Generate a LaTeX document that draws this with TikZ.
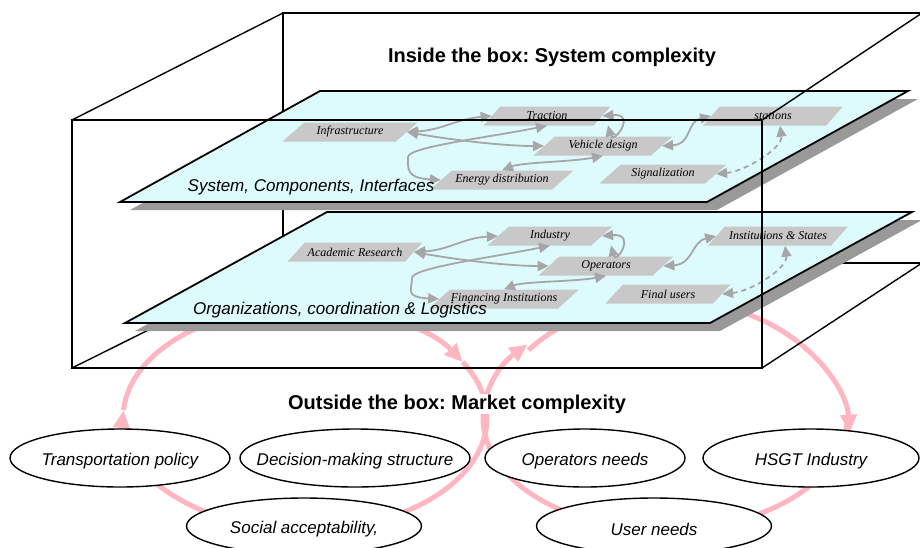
\documentclass[tikz,border=0pt]{standalone}
\usepackage{fontspec}
\setmainfont{Liberation Serif}
\setsansfont{Liberation Sans}
\usetikzlibrary{shapes.geometric,arrows.meta}
\frenchspacing
\definecolor{sheetcyan}{RGB}{221,250,253}
\definecolor{sheetgray}{RGB}{153,153,153}
\definecolor{taggray}{RGB}{200,200,200}
\definecolor{linkgray}{RGB}{166,166,166}
\definecolor{looppink}{RGB}{255,182,193}
\tikzset{
  boxedge/.style={line width=1.4pt},
  sheet/.style={fill=sheetcyan, draw=black, line width=1.8pt},
  sheetshade/.style={fill=sheetgray},
  tag/.style={trapezium, trapezium left angle=31, trapezium right angle=149,
    trapezium stretches body, fill=taggray, minimum height=19pt, minimum width=135pt,
    inner sep=1pt, font=\fontsize{12}{13}\selectfont\itshape},
  link/.style={draw=linkgray, line width=1.8pt, >={Triangle[length=11pt,width=10pt]}, <->},
  dashlink/.style={link, dash pattern=on 5pt off 4pt},
  pinkloop/.style={draw=looppink, line width=5pt},
  looptip/.style={pinkloop, >={Triangle[length=18pt,width=16pt]}, ->},
  need/.style={ellipse, draw, line width=1.4pt, fill=white, inner sep=0pt},
  needtext/.style={font=\fontsize{17}{20}\selectfont\sffamily\itshape, yshift=-3pt},
  heading/.style={font=\fontsize{20}{24}\selectfont\sffamily\bfseries},
  layername/.style={font=\fontsize{17}{20}\selectfont\sffamily\itshape}
}
\begin{document}
\begin{tikzpicture}[x=1pt, y=-1pt]
\useasboundingbox (0,0) rectangle (920,547);
% the box
\coordinate (bTL) at (283,13);
\coordinate (bTR) at (922,13);
\coordinate (bBR) at (922,263);
\coordinate (bBL) at (283,263);
\coordinate (fTL) at (72,120);
\coordinate (fTR) at (762,120);
\coordinate (fBR) at (762,368);
\coordinate (fBL) at (72,368);
\draw[boxedge] (bBL) rectangle (bTR);
\draw[boxedge] (fTL) -- (bTL) (fBL) -- (bBL);

% market loops
\draw[looptip] (305,418) ++(120:182 and 112) arc[start angle=120, end angle=184, x radius=182, y radius=112];
\draw[looptip] (305,418) ++(184:182 and 112) arc[start angle=184, end angle=330, x radius=182, y radius=112];
\draw[pinkloop] (305,418) ++(330:182 and 112) arc[start angle=330, end angle=480, x radius=182, y radius=112];
\draw[looptip] (665,418) ++(180:182 and 112) arc[start angle=180, end angle=221, x radius=182, y radius=112];
\draw[looptip] (668,440) ++(220:182 and 140) arc[start angle=220, end angle=357, x radius=182, y radius=140];
\draw[pinkloop] (665,418) ++(0:182 and 112) arc[start angle=0, end angle=180, x radius=182, y radius=112];

% organizations layer
\fill[sheetshade, shift={(10,8)}] (125,323) -- (710,323) -- (912,212) -- (327,212) -- cycle;
\draw[sheet] (125,323) -- (710,323) -- (912,212) -- (327,212) -- cycle;
\node[tag] (academic) at (355,252) {Academic Research};
\node[tag, minimum width=125pt] (industry) at (550,236) {Industry};
\node[tag] (operators) at (606,266) {Operators};
\node[tag, minimum width=148pt] (financing) at (504,299) {Financing Institutions};
\node[tag, minimum width=125pt] (finalusers) at (668,294) {Final users};
\node[tag, minimum width=140pt] (institutions) at (778,236) {Institutions \& States};
\draw[link] (academic.east) .. controls +(35,-2) and +(-35,2) .. (industry.west);
\draw[link] (academic.east) .. controls +(45,8) and +(-40,0) .. (operators.west);
\draw[link] (financing.west) .. controls +(-35,-2) and +(0,12) .. (412,278) .. controls +(0,-10) and +(-60,12) .. (industry.south);
\draw[link] (financing.north) .. controls +(20,-8) and +(-30,6) .. (operators.south);
\draw[link] (industry.east) .. controls +(35,-3) and +(5,20) .. ([shift={(5,-11)}]operators.north);
\draw[link] (operators.east) .. controls +(30,-2) and +(-25,6) .. (institutions.west);
\draw[dashlink] (finalusers.east) .. controls +(30,-3) and +(3,22) .. ([shift={(7,0)}]institutions.south);
\node[layername] (orglabel) at (340,310) {Organizations, coordination \& Logistics};

% system layer
\fill[sheetshade, shift={(10,8)}] (120,202) -- (707,202) -- (908,91) -- (320,91) -- cycle;
\draw[sheet] (120,202) -- (707,202) -- (908,91) -- (320,91) -- cycle;
\node[tag] (infra) at (350,132) {Infrastructure};
\node[tag, minimum width=127pt] (traction) at (547,116) {Traction};
\node[tag, minimum width=139pt] (vehicle) at (603,146) {Vehicle design};
\node[tag, minimum width=143pt] (energy) at (502,180) {Energy distribution};
\node[tag, minimum width=127pt] (signal) at (663,174) {Signalization};
\node[tag, minimum width=140pt] (stations) at (773,116) {stations};
\draw[link] (infra.east) .. controls +(35,-2) and +(-35,3) .. (traction.west);
\draw[link] (infra.east) .. controls +(45,8) and +(-40,0) .. (vehicle.west);
\draw[link] (energy.west) .. controls +(-35,-2) and +(0,12) .. (408,157) .. controls +(0,-10) and +(-60,12) .. (traction.south);
\draw[link] (energy.north) .. controls +(20,-8) and +(-30,6) .. (vehicle.south);
\draw[link] (traction.east) .. controls +(35,-3) and +(5,20) .. ([shift={(5,-11)}]vehicle.north);
\draw[link] (vehicle.east) .. controls +(30,-2) and +(-25,6) .. (stations.west);
\draw[dashlink] (signal.east) .. controls +(30,-3) and +(3,22) .. ([shift={(7,0)}]stations.south);
\node[layername] (syslabel) at (311,187) {System, Components, Interfaces};

% front of the box
\draw[boxedge] (fTL) rectangle (fBR);
\draw[boxedge] (fTR) -- (bTR) (fBR) -- (bBR);

\node[heading] (inside) at (552,57) {Inside the box: System complexity};
\node[heading, fill=white, inner sep=1pt] (outside) at (457,404) {Outside the box: Market complexity};

\node[need, minimum width=220pt, minimum height=58pt, label={[needtext]center:Transportation policy}] (transpo) at (120,458) {};
\node[need, minimum width=230pt, minimum height=58pt, label={[needtext]center:Decision-making structure}] (decision) at (355,458) {};
\node[need, minimum width=235pt, minimum height=56pt, label={[needtext]center:Social acceptability,}] (social) at (304,526) {};
\node[need, minimum width=200pt, minimum height=58pt, label={[needtext]center:Operators needs}] (opneeds) at (585,458) {};
\node[need, minimum width=216pt, minimum height=58pt, label={[needtext]center:HSGT Industry}] (hsgt) at (811,458) {};
\node[need, minimum width=235pt, minimum height=56pt, label={[needtext]center:User needs}] (userneeds) at (654,526) {};
\end{tikzpicture}
\end{document}
